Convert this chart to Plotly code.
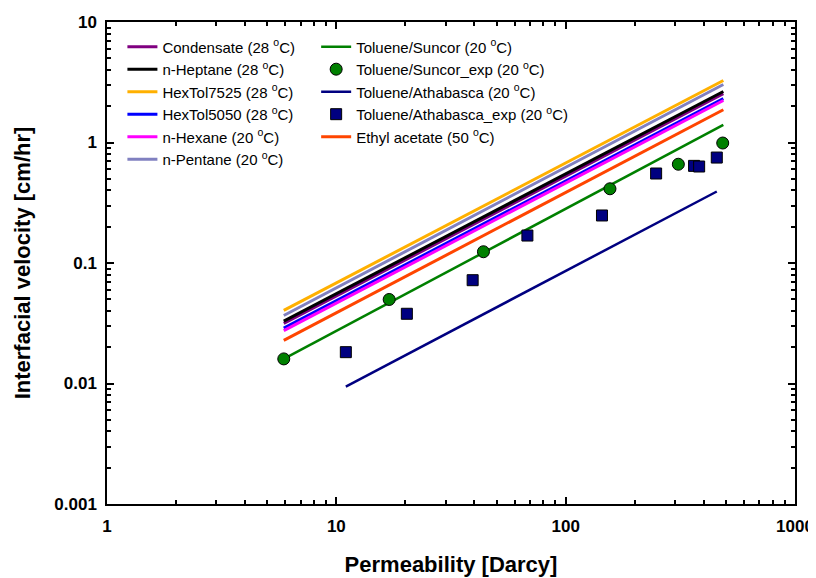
import plotly.graph_objects as go

# ---- data ----
line_names = ["Condensate (28 <sup>o</sup>C)", "n-Heptane (28 <sup>o</sup>C)",
              "HexTol7525 (28 <sup>o</sup>C)", "HexTol5050 (28 <sup>o</sup>C)",
              "n-Hexane (20 <sup>o</sup>C)", "n-Pentane (20 <sup>o</sup>C)"]
line_colors = ["#800080", "#000000", "#FFB000", "#0000FF", "#FF00FF", "#8080C0"]
k_line = [5.9, 487]
v_start = [0.0315, 0.0329, 0.0404, 0.0288, 0.0275, 0.0367]
v_end = [2.54, 2.65, 3.27, 2.31, 2.23, 3.03]

suncor_line_k = [5.9, 487]
suncor_line_v = [0.016, 1.40]
suncor_exp_k = [5.9, 17.0, 43.8, 156, 310, 484]
suncor_exp_v = [0.016, 0.0498, 0.124, 0.413, 0.66, 0.99]

atha_line_k = [11.0, 456]
atha_line_v = [0.00944, 0.392]
atha_exp_k = [11.0, 20.3, 39.3, 68.1, 144, 248, 363, 382, 456]
atha_exp_v = [0.0182, 0.0379, 0.072, 0.169, 0.248, 0.553, 0.64, 0.632, 0.75]

ethyl_k = [5.9, 487]
ethyl_v = [0.0228, 1.87]

x_range_log = [0, 3]
y_range_log = [-3, 1]

FONT = "Liberation Sans, Arial, Helvetica, sans-serif"

fig = go.Figure()
for name, col, a, b in zip(line_names, line_colors, v_start, v_end):
    fig.add_trace(go.Scatter(x=k_line, y=[a, b], mode="lines", name=name,
                             line=dict(color=col, width=3), legend="legend"))

fig.add_trace(go.Scatter(x=suncor_line_k, y=suncor_line_v, mode="lines",
                         name="Toluene/Suncor (20 <sup>o</sup>C)",
                         line=dict(color="#008000", width=2.5), legend="legend2"))
fig.add_trace(go.Scatter(x=suncor_exp_k, y=suncor_exp_v, mode="markers",
                         name="Toluene/Suncor_exp (20 <sup>o</sup>C)",
                         marker=dict(symbol="circle", size=12, color="#008000",
                                     line=dict(color="black", width=1)), legend="legend2"))
fig.add_trace(go.Scatter(x=atha_line_k, y=atha_line_v, mode="lines",
                         name="Toluene/Athabasca (20 <sup>o</sup>C)",
                         line=dict(color="#000080", width=2.5), legend="legend2"))
fig.add_trace(go.Scatter(x=atha_exp_k, y=atha_exp_v, mode="markers",
                         name="Toluene/Athabasca_exp (20 <sup>o</sup>C)",
                         marker=dict(symbol="square", size=11, color="#000080",
                                     line=dict(color="black", width=1)), legend="legend2"))
fig.add_trace(go.Scatter(x=ethyl_k, y=ethyl_v, mode="lines",
                         name="Ethyl acetate (50 <sup>o</sup>C)",
                         line=dict(color="#FF4500", width=3), legend="legend2"))

axis_common = dict(type="log", showgrid=False, zeroline=False, showline=True,
                   linecolor="black", linewidth=1.5, mirror="allticks", automargin=False,
                   tickmode="linear", tick0=0, dtick=1,
                   ticks="inside", ticklen=7, tickcolor="#000000", tickwidth=1.5,
                   minor=dict(ticks="inside", ticklen=4, tickcolor="#000000",
                              dtick="D1", tickwidth=1.5, showgrid=False),
                   tickfont=dict(family=FONT, size=17, color="black", weight="bold"))

fig.update_xaxes(**axis_common, range=x_range_log, ticklabelstandoff=6,
                 title=dict(text="Permeability [Darcy]", standoff=21,
                            font=dict(family=FONT, size=22, color="black", weight="bold")))
fig.update_yaxes(**axis_common, range=y_range_log, ticklabelstandoff=5,
                 title=dict(text="Interfacial velocity [cm/hr]", standoff=18,
                            font=dict(family=FONT, size=22, color="black", weight="bold")))

legend_style = dict(font=dict(family=FONT, size=15, color="black"),
                    bgcolor="rgba(0,0,0,0)", borderwidth=0, tracegroupgap=0,
                    xanchor="left", yanchor="top", itemwidth=30)
fig.update_layout(
    width=808, height=570,
    margin=dict(l=99, r=21, t=14, b=74),
    plot_bgcolor="white", paper_bgcolor="white",
    legend=dict(x=0.0224, y=0.9825, **legend_style),
    legend2=dict(x=0.304, y=0.9825, **legend_style),
    showlegend=True,
)

fig.write_html("out.html")
